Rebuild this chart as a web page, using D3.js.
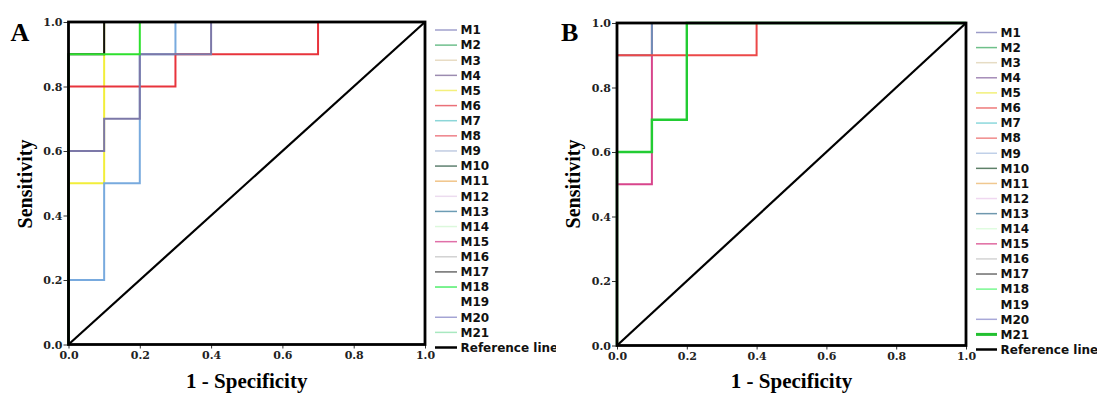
<!DOCTYPE html>
<html>
<head>
<meta charset="utf-8">
<script src="https://cdn.jsdelivr.net/npm/d3@7"></script>
<style>
  html, body { margin: 0; padding: 0; background: #fff; }
  svg { display: block; }
</style>
</head>
<body>
<svg id="chart" width="1097" height="394"></svg>
<script>
// ---------------- DATA ----------------
const tickValues = [0, 0.2, 0.4, 0.6, 0.8, 1.0];
const legendNames = ["M1","M2","M3","M4","M5","M6","M7","M8","M9","M10","M11","M12","M13","M14","M15","M16","M17","M18","M19","M20","M21","Reference line"];
const legendColorsA = ["#a0a0cc","#6fbf8c","#e8dcc4","#9c8cb0","#f4f07c","#ea7078","#8cd6d8","#ee8088","#c0cce2","#5f8070","#f0c488","#ecdcef","#6c9cb4","#dcf8dc","#e070a8","#d2d2d2","#6c6c6c","#50ee6c",null,"#a4a4d4","#a8e8c0","#000000"];
const legendColorsB = ["#9c9cc8","#6fc08a","#e6dcc4","#a58cb8","#f2f07a","#ee7a7a","#8cd8dc","#f08a8a","#c0d0e8","#5e8068","#f0c890","#f0d8f0","#6f98ae","#e0fce0","#e06aa0","#d4d4d4","#6e6e6e","#78f890",null,"#a8a8d8","#22c030","#000000"];
const legendWidthsA = [1.5,1.5,1.5,1.5,1.5,1.5,1.5,1.5,1.5,1.5,1.5,1.5,1.5,1.5,1.5,1.5,1.5,1.5,0,1.5,1.5,2.5];
const legendWidthsB = [1.5,1.5,1.5,1.5,1.5,1.5,1.5,1.5,1.5,1.5,1.5,1.5,1.5,1.5,1.5,1.5,1.5,1.5,0,1.5,3,2.5];

// Panel A ROC curves (1 - specificity, sensitivity)
const fprA_M5  = [0, 0,   0.1, 0.1, 1];
const tprA_M5  = [0, 0.5, 0.5, 1.0, 1];
const fprA_M13 = [0, 0,   0.1, 0.1, 0.2, 0.2, 0.3, 0.3, 1];
const tprA_M13 = [0, 0.2, 0.2, 0.5, 0.5, 0.9, 0.9, 1.0, 1];
const fprA_M6  = [0, 0,   0.3, 0.3, 0.7, 0.7, 1];
const tprA_M6  = [0, 0.8, 0.8, 0.9, 0.9, 1.0, 1];
const fprA_M4  = [0, 0,   0.1, 0.1, 0.2, 0.2, 0.4, 0.4, 1];
const tprA_M4  = [0, 0.6, 0.6, 0.7, 0.7, 0.9, 0.9, 1.0, 1];
const fprA_M17 = [0, 0,   0.1, 0.1, 1];
const tprA_M17 = [0, 0.9, 0.9, 1.0, 1];
const fprA_M18 = [0, 0,   0.2, 0.2, 1];
const tprA_M18 = [0, 0.9, 0.9, 1.0, 1];

// Panel B ROC curves
const fprB_M15 = [0, 0,   0.1, 0.1, 1];
const tprB_M15 = [0, 0.5, 0.5, 1.0, 1];
const fprB_M13 = [0, 0,   0.1, 0.1, 1];
const tprB_M13 = [0, 0.9, 0.9, 1.0, 1];
const fprB_M6  = [0, 0,   0.4, 0.4, 1];
const tprB_M6  = [0, 0.9, 0.9, 1.0, 1];
const fprB_M21 = [0, 0,   0.1, 0.1, 0.2, 0.2, 1];
const tprB_M21 = [0, 0.6, 0.6, 0.7, 0.7, 1.0, 1];

const refFpr = [0, 1];
const refTpr = [0, 1];

// ---------------- DRAW ----------------
const svg = d3.select("#chart");

function zip(xs, ys) { return xs.map((x, i) => [x, ys[i]]); }

function drawPanel(cfg) {
  const g = svg.append("g");
  const x = d3.scaleLinear().domain([0, 1]).range([cfg.x0, cfg.x1]);
  const y = d3.scaleLinear().domain([0, 1]).range([cfg.y0, cfg.y1]);
  const line = d3.line().x(d => x(d[0])).y(d => y(d[1]));

  // axes
  const xAxis = d3.axisBottom(x).tickValues(tickValues).tickFormat(d3.format(".1f")).tickSize(4).tickPadding(3);
  const yAxis = d3.axisLeft(y).tickValues(tickValues).tickFormat(d3.format(".1f")).tickSize(5).tickPadding(1);
  const gx = g.append("g").attr("transform", `translate(0,${cfg.y0})`).call(xAxis);
  const gy = g.append("g").attr("transform", `translate(${cfg.x0},0)`).call(yAxis);
  [gx, gy].forEach(a => {
    a.select(".domain").remove();
    a.selectAll(".tick line").attr("stroke", "#333").attr("stroke-width", 1);
    a.selectAll(".tick text")
      .attr("font-family", "'DejaVu Serif', serif")
      .attr("font-weight", "bold")
      .attr("font-size", 11)
      .attr("fill", "#222");
  });

  // curves
  cfg.curves.forEach(c => {
    g.append("path")
      .attr("d", line(zip(c.fpr, c.tpr)))
      .attr("fill", "none")
      .attr("stroke", c.color)
      .attr("stroke-width", c.w || 2)
      .attr("stroke-linejoin", "miter");
  });

  // reference line
  g.append("path")
    .attr("d", line(zip(refFpr, refTpr)))
    .attr("fill", "none").attr("stroke", "#000").attr("stroke-width", 2.2);

  // frame
  g.append("rect")
    .attr("x", x(0)).attr("y", y(1))
    .attr("width", x(1) - x(0)).attr("height", y(0) - y(1))
    .attr("fill", "none").attr("stroke", "#000").attr("stroke-width", 2.8);

  // titles
  g.append("text")
    .attr("x", (cfg.x0 + cfg.x1) / 2).attr("y", 388)
    .attr("text-anchor", "middle")
    .attr("font-family", "'Liberation Serif', 'Times New Roman', serif")
    .attr("font-weight", "bold").attr("font-size", 21)
    .text("1 - Specificity");
  g.append("text")
    .attr("transform", `translate(${cfg.ytX},${cfg.ytY}) rotate(-90)`)
    .attr("text-anchor", "middle")
    .attr("font-family", "'Liberation Serif', 'Times New Roman', serif")
    .attr("font-weight", "bold").attr("font-size", 20)
    .text("Sensitivity");
  g.append("text")
    .attr("x", cfg.labX).attr("y", 40.5)
    .attr("font-family", "'Liberation Serif', 'Times New Roman', serif")
    .attr("font-weight", "bold").attr("font-size", 26)
    .text(cfg.label);

  // legend
  const lg = svg.append("g");
  if (cfg.clipW) {
    const id = "clip" + cfg.label;
    svg.append("clipPath").attr("id", id).append("rect")
      .attr("x", cfg.lx0 - 5).attr("y", 0).attr("width", cfg.clipW).attr("height", 394);
    lg.attr("clip-path", `url(#${id})`);
  }
  const ly = d3.scalePoint().domain(legendNames).range([cfg.ly0, cfg.ly1]);
  legendNames.forEach((name, i) => {
    const col = cfg.legendColors[i];
    if (col) {
      lg.append("line")
        .attr("x1", cfg.lx0).attr("x2", cfg.lx1)
        .attr("y1", ly(name)).attr("y2", ly(name))
        .attr("stroke", col).attr("stroke-width", cfg.legendWidths[i]);
    }
    lg.append("text")
      .attr("x", cfg.lx1 + 3.5).attr("y", ly(name) + 4.3)
      .attr("font-family", "'DejaVu Sans', sans-serif")
      .attr("font-weight", "bold").attr("font-size", 12)
      .attr("fill", "#111")
      .text(name);
  });
}

drawPanel({
  label: "A", labX: 10.5,
  x0: 68.5, x1: 425, y0: 344.5, y1: 22,
  ytX: 31.5, ytY: 184,
  lx0: 435, lx1: 457, ly0: 30, ly1: 347.5, clipW: 126,
  legendColors: legendColorsA,
  legendWidths: legendWidthsA,
  curves: [
    { fpr: fprA_M5,  tpr: tprA_M5,  color: "#f2ee3a" },
    { fpr: fprA_M13, tpr: tprA_M13, color: "#78aade" },
    { fpr: fprA_M6,  tpr: tprA_M6,  color: "#e8343c" },
    { fpr: fprA_M4,  tpr: tprA_M4,  color: "#7c78a8" },
    { fpr: fprA_M17, tpr: tprA_M17, color: "#111111" },
    { fpr: fprA_M18, tpr: tprA_M18, color: "#2ee02e" }
  ]
});

drawPanel({
  label: "B", labX: 561,
  x0: 617, x1: 966, y0: 345.5, y1: 23,
  ytX: 580, ytY: 184,
  lx0: 976, lx1: 997, ly0: 32.5, ly1: 349.5, clipW: null,
  legendColors: legendColorsB,
  legendWidths: legendWidthsB,
  curves: [
    { fpr: fprB_M15, tpr: tprB_M15, color: "#d8458c" },
    { fpr: fprB_M13, tpr: tprB_M13, color: "#6e8fb8" },
    { fpr: fprB_M6,  tpr: tprB_M6,  color: "#ec4848" },
    { fpr: fprB_M21, tpr: tprB_M21, color: "#22cc33", w: 2.4 }
  ]
});
</script>
</body>
</html>
